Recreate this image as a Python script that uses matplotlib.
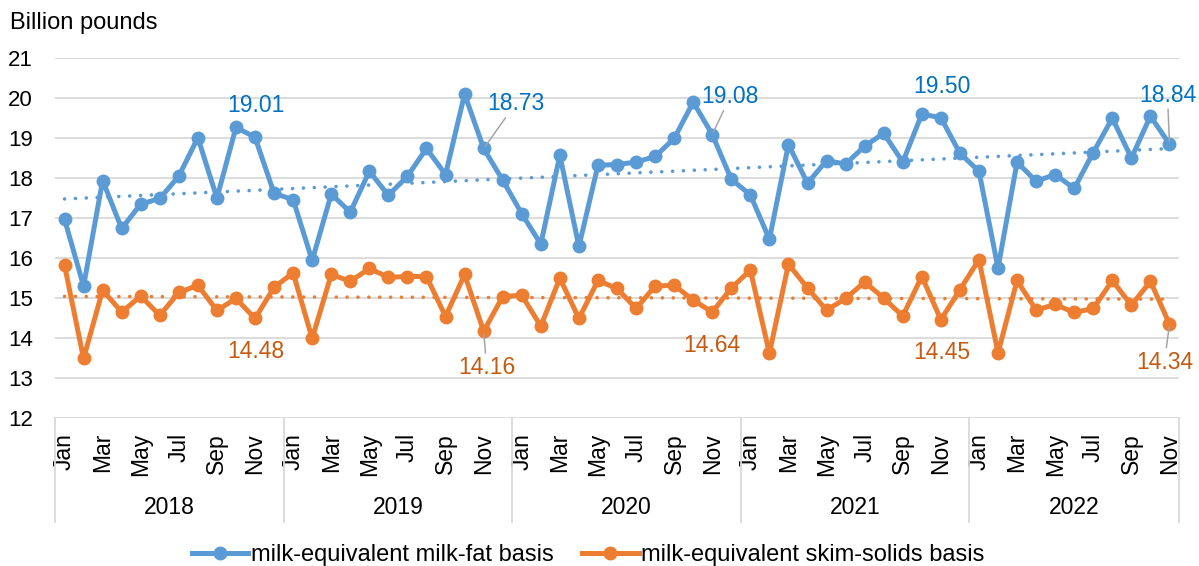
import numpy as np
import matplotlib
matplotlib.use("Agg")
import matplotlib.pyplot as plt
from matplotlib.lines import Line2D
import matplotlib.transforms as mtransforms

plt.rcParams['font.family'] = ['Liberation Sans', 'DejaVu Sans']

years = ['2018', '2019', '2020', '2021', '2022']
months = ['Jan', 'Feb', 'Mar', 'Apr', 'May', 'Jun',
          'Jul', 'Aug', 'Sep', 'Oct', 'Nov', 'Dec']

# monthly values, Jan 2018 - Nov 2022 (billion pounds)
milk_fat = [16.96, 15.29, 17.93, 16.73, 17.34, 17.48, 18.04, 19.00, 17.49, 19.26, 19.01, 17.61,
            17.45, 15.93, 17.59, 17.14, 18.16, 17.56, 18.04, 18.73, 18.08, 20.09, 18.73, 17.94,
            17.10, 16.34, 18.56, 16.28, 18.31, 18.33, 18.39, 18.53, 18.98, 19.89, 19.08, 17.96,
            17.57, 16.46, 18.83, 17.86, 18.43, 18.34, 18.79, 19.11, 18.39, 19.59, 19.50, 18.61,
            18.16, 15.74, 18.39, 17.91, 18.08, 17.73, 18.63, 19.49, 18.49, 19.54, 18.84]

skim_solids = [15.81, 13.48, 15.19, 14.64, 15.04, 14.56, 15.13, 15.31, 14.68, 14.98, 14.48, 15.26,
               15.62, 13.98, 15.58, 15.41, 15.73, 15.51, 15.53, 15.53, 14.53, 15.58, 14.16, 15.03,
               15.06, 14.29, 15.49, 14.48, 15.43, 15.23, 14.73, 15.29, 15.31, 14.94, 14.64, 15.24,
               15.69, 13.61, 15.84, 15.24, 14.69, 14.98, 15.39, 14.99, 14.54, 15.53, 14.45, 15.20,
               15.95, 13.62, 15.43, 14.69, 14.83, 14.63, 14.73, 15.43, 14.81, 15.41, 14.34]

# November points carry a value label
labelled = [10, 22, 34, 46, 58]

BLUE, ORANGE = '#5B9BD5', '#ED7D31'
BLUE_TXT, ORANGE_TXT = '#0070C0', '#C55A11'
GRID = '#d9d9d9'

n = len(milk_fat)
x = np.arange(n)
month_lbl = [months[i % 12] for i in range(n)]

fig = plt.figure(figsize=(11.99, 5.66), dpi=100)
ax = fig.add_axes([55 / 1199, 1 - 417.7 / 566, 1124 / 1199, 360 / 566])

ax.set_xlim(-0.5, n - 0.5)
ax.set_ylim(12, 21)
ax.set_yticks(range(12, 22))
ax.yaxis.grid(True, color=GRID, lw=1.3)
ax.set_axisbelow(True)
for s in ax.spines.values():
    s.set_visible(False)
ax.tick_params(axis='y', length=0, pad=16, labelsize=16)
ax.tick_params(axis='x', length=0, pad=11, labelsize=16.5)
ax.set_xticks(x[::2])
ax.set_xticklabels(month_lbl[::2], rotation=90)

# linear trend lines
for vals, col in [(milk_fat, BLUE), (skim_solids, ORANGE)]:
    k, b = np.polyfit(x, vals, 1)
    ax.plot(x, k * x + b, color=col, lw=2.6, linestyle=(0, (0.01, 3.0)),
            dash_capstyle='round', zorder=2)

ax.plot(x, milk_fat, color=BLUE, lw=3.6, marker='o', ms=9, zorder=3,
        label='milk-equivalent milk-fat basis')
ax.plot(x, skim_solids, color=ORANGE, lw=3.6, marker='o', ms=9, zorder=3,
        label='milk-equivalent skim-solids basis')

# (dx, dy) offsets in pixels for the value labels, leader flag
fat_off = [(1, 32, False), (32, 45, True), (18, 38, True), (1, 31, False), (-2, 49, True)]
skim_off = [(1, -33, False), (3, -36, True), (0, -33, False), (1, -33, False), (-5, -38, True)]

for vals, offs, col in [(milk_fat, fat_off, BLUE_TXT), (skim_solids, skim_off, ORANGE_TXT)]:
    for i, (dx, dy, lead) in zip(labelled, offs):
        kw = {}
        if lead:
            kw['arrowprops'] = dict(arrowstyle='-', color='#a5a5a5', lw=1.1,
                                    shrinkA=0, shrinkB=2)
        ax.annotate(f'{vals[i]:.2f}', (x[i], vals[i]), xytext=(dx, dy),
                    textcoords='offset pixels', ha='center', va='center',
                    fontsize=16.5, color=col, zorder=5, **kw)

# year grouping under the month labels
trans = mtransforms.blended_transform_factory(ax.transData, ax.transAxes)
edges = [-0.5] + [12 * k - 0.5 for k in range(1, len(years))] + [n - 0.5]
for e in edges:
    ax.add_line(Line2D([e, e], [0, -0.289], transform=trans, color=GRID,
                       lw=1.3, clip_on=False))
for k, yr in enumerate(years):
    mid = (edges[k] + edges[k + 1]) / 2
    ax.text(mid, -0.25, yr, transform=trans, ha='center', va='center', fontsize=16.5)

fig.text(10 / 1199, 1 - 23 / 566, 'Billion pounds', ha='left', va='center', fontsize=17)

ax.legend(loc='center', bbox_to_anchor=(588 / 1199, 1 - 555 / 566),
          bbox_transform=fig.transFigure, ncol=2, frameon=False, fontsize=17,
          handlelength=2.4, handletextpad=0.1, columnspacing=1.2, borderpad=0)

fig.savefig('out.png', dpi=100)
